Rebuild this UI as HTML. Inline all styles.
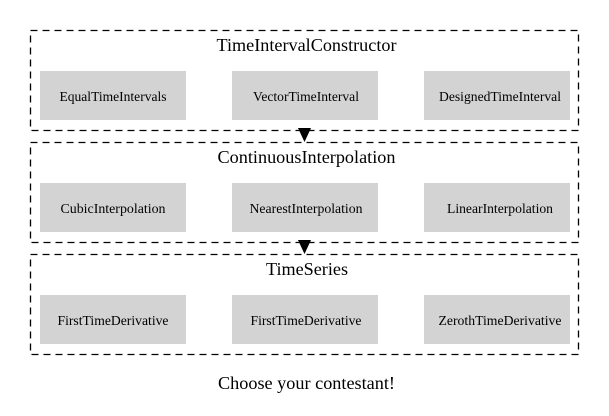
<!DOCTYPE html>
<html><head><style>html,body{margin:0;padding:0;background:#fff;width:609px;height:416px;overflow:hidden}</style></head>
<body>
<svg width="609" height="416" viewBox="0 0 609 416" xmlns="http://www.w3.org/2000/svg" font-family="'Liberation Serif', serif">
<g fill="none" stroke="#000" stroke-width="1.3" stroke-dasharray="7,5">
<rect x="30.5" y="30.5" width="548" height="100"/>
<rect x="30.5" y="142.5" width="548" height="100"/>
<rect x="30.5" y="254.5" width="548" height="100"/>
</g>
<g fill="#d3d3d3">
<rect x="40" y="71" width="146" height="49"/><rect x="232" y="71" width="146" height="49"/><rect x="424" y="71" width="146" height="49"/>
<rect x="40" y="183" width="146" height="49"/><rect x="232" y="183" width="146" height="49"/><rect x="424" y="183" width="146" height="49"/>
<rect x="40" y="295" width="146" height="49"/><rect x="232" y="295" width="146" height="49"/><rect x="424" y="295" width="146" height="49"/>
</g>
<g fill="#000">
<polygon points="298,128 311,128 304.5,142"/>
<polygon points="298,240 311,240 304.5,254"/>
</g>
<g font-size="18" text-anchor="middle" fill="#000" lengthAdjust="spacingAndGlyphs">
<text x="306.5" y="51" textLength="180" lengthAdjust="spacingAndGlyphs">TimeIntervalConstructor</text>
<text x="306.5" y="163" textLength="178" lengthAdjust="spacingAndGlyphs">ContinuousInterpolation</text>
<text x="307" y="275" textLength="82" lengthAdjust="spacingAndGlyphs">TimeSeries</text>
<text x="306.5" y="389" textLength="177" lengthAdjust="spacingAndGlyphs">Choose your contestant!</text>
</g>
<g font-size="13.5" text-anchor="middle" fill="#000">
<text x="113" y="117" dy="-16" textLength="107" lengthAdjust="spacingAndGlyphs">EqualTimeIntervals</text>
<text x="306" y="101" textLength="106" lengthAdjust="spacingAndGlyphs">VectorTimeInterval</text>
<text x="500" y="101" textLength="122" lengthAdjust="spacingAndGlyphs">DesignedTimeInterval</text>
<text x="113" y="213" textLength="105" lengthAdjust="spacingAndGlyphs">CubicInterpolation</text>
<text x="306" y="213" textLength="113" lengthAdjust="spacingAndGlyphs">NearestInterpolation</text>
<text x="500" y="213" textLength="106" lengthAdjust="spacingAndGlyphs">LinearInterpolation</text>
<text x="113" y="325" textLength="111" lengthAdjust="spacingAndGlyphs">FirstTimeDerivative</text>
<text x="306" y="325" textLength="111" lengthAdjust="spacingAndGlyphs">FirstTimeDerivative</text>
<text x="500" y="325" textLength="123" lengthAdjust="spacingAndGlyphs">ZerothTimeDerivative</text>
</g>
</svg>
</body></html>
